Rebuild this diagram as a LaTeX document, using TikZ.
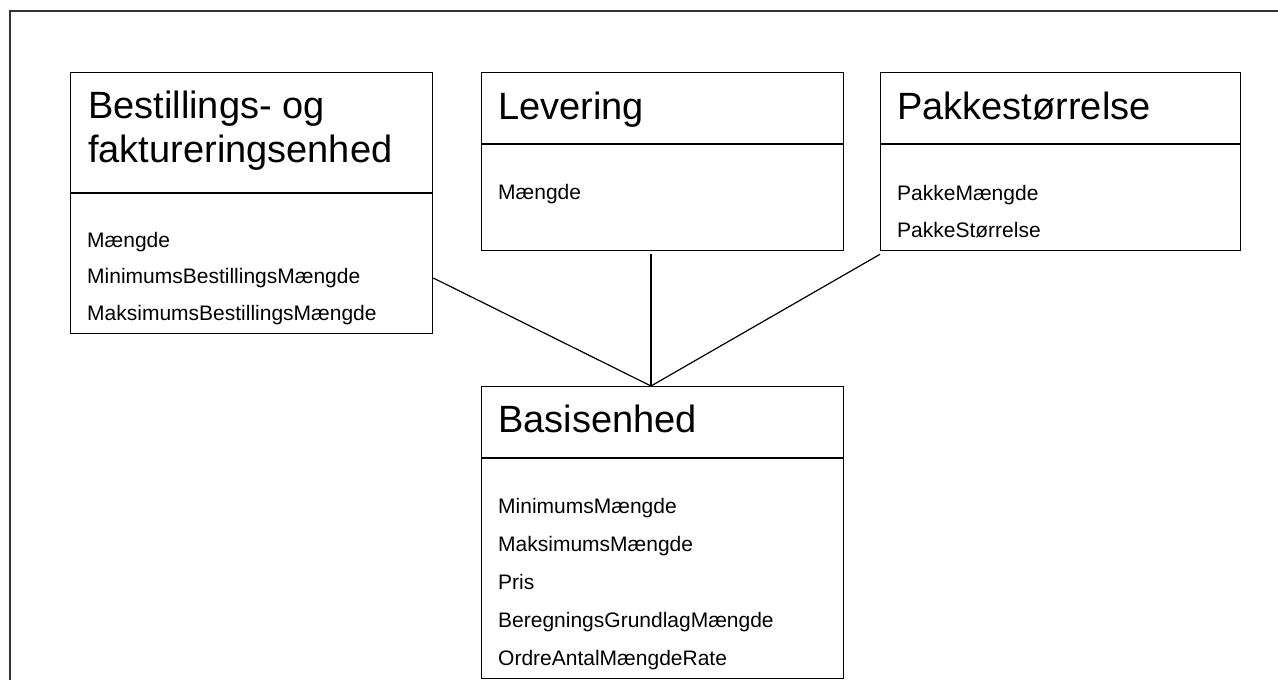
\documentclass[tikz,border=0pt]{standalone}
\usepackage{fontspec}
\setmainfont{Liberation Sans}
\usetikzlibrary{calc}
\begin{document}
\begin{tikzpicture}[x=1pt,y=-1pt,
  box/.style={draw=black, line width=1.3pt, rectangle, inner sep=0pt, anchor=north west},
  divider/.style={draw=black, line width=1.3pt},
  title/.style={anchor=base west, inner sep=0pt, font=\fontsize{38}{44}\selectfont},
  attr/.style={anchor=base west, inner sep=0pt, font=\fontsize{21}{25}\selectfont},
  conn/.style={draw=black, line width=1.2pt},
  frame/.style={draw=black!80, line width=2pt}]
\useasboundingbox (0,0) rectangle (1278,680);
\fill[white] (0,0) rectangle (1278,680);
% outer frame (clipped at right and bottom)
\draw[frame] (10,700) -- (10,11) -- (1300,11);

% Bestillings- og faktureringsenhed
\node[box, minimum width=362pt, minimum height=261pt] (best) at (70,72) {};
\draw[divider] (best.north west) ++(0,121) -- ++(362,0);
\node[title] (bt1) at (88,118) {Bestillings- og};
\node[title] (bt2) at (88,162) {faktureringsenhed};
\node[attr] (ba1) at (87,247) {Mængde};
\node[attr] (ba2) at (87,283) {MinimumsBestillingsMængde};
\node[attr] (ba3) at (87,320) {MaksimumsBestillingsMængde};

% Levering
\node[box, minimum width=362pt, minimum height=178pt] (lev) at (481,72) {};
\draw[divider] (lev.north west) ++(0,72) -- ++(362,0);
\node[title] (lt) at (498,119) {Levering};
\node[attr] (la1) at (498,199) {Mængde};

% Pakkestoerrelse
\node[box, minimum width=360pt, minimum height=178pt] (pak) at (880,72) {};
\draw[divider] (pak.north west) ++(0,72) -- ++(360,0);
\node[title] (pt) at (897,119) {Pakkestørrelse};
\node[attr] (pa1) at (897,200) {PakkeMængde};
\node[attr] (pa2) at (897,237) {PakkeStørrelse};

% Basisenhed
\node[box, minimum width=362pt, minimum height=292pt] (bas) at (481,386) {};
\draw[divider] (bas.north west) ++(0,72) -- ++(362,0);
\node[title] (bst) at (498,432) {Basisenhed};
\node[attr] (bs1) at (498,513) {MinimumsMængde};
\node[attr] (bs2) at (498,551) {MaksimumsMængde};
\node[attr] (bs3) at (498,589) {Pris};
\node[attr] (bs4) at (498,627) {BeregningsGrundlagMængde};
\node[attr] (bs5) at (498,665) {OrdreAntalMængdeRate};

% connectors
\coordinate (apex) at ($(bas.north west)+(170,0)$);
\coordinate (c1) at ($(best.north east)+(0,206)$);
\coordinate (c2) at ($(lev.south west)+(170,3)$);
\coordinate (c3) at ($(pak.south west)+(0,3)$);
\draw[conn] (c1) -- (apex);
\draw[conn] (c2) -- (apex);
\draw[conn] (c3) -- (apex);
\end{tikzpicture}
\end{document}
